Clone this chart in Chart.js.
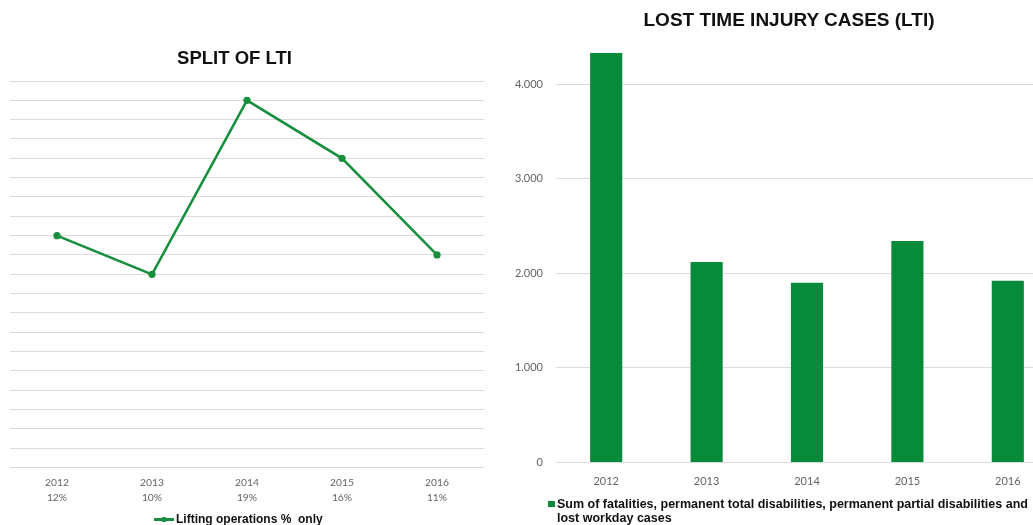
<!DOCTYPE html>
<html>
<head>
<meta charset="utf-8">
<script src="https://cdn.jsdelivr.net/npm/chart.js@4.4.0/dist/chart.umd.min.js"></script>
<style>
  html, body { margin: 0; padding: 0; background: #fff; }
  body { width: 1033px; height: 525px; overflow: hidden; position: relative; }
  .box { position: absolute; top: 0; height: 525px; }
  .title { position: absolute; font-family: "Liberation Sans", Arial, sans-serif; font-weight: bold; color: #111; white-space: nowrap; transform: translate(-50%, -50%); }
  .legend { position: absolute; font-family: "Liberation Sans", Arial, sans-serif; font-weight: bold; color: #111; white-space: nowrap; }
</style>
</head>
<body>
<div class="box" id="leftBox" style="left:0; width:500px;"><canvas id="left"></canvas></div>
<div class="box" id="rightBox" style="left:490px; width:580px;"><canvas id="right"></canvas></div>

<div class="title" style="left:234.5px; top:58px; font-size:18.5px;">SPLIT OF LTI</div>
<div class="title" style="left:789px; top:20px; font-size:19px;">LOST TIME INJURY CASES (LTI)</div>

<div class="legend" style="left:154px; top:512px; font-size:12px; line-height:14px;">
  <span style="position:absolute; left:0; top:6px; width:20px; height:2.5px; background:#188f3f;"></span>
  <span style="position:absolute; left:7px; top:4.5px; width:5.5px; height:5.5px; border-radius:50%; background:#188f3f;"></span>
  <span style="padding-left:22px;">Lifting operations %&nbsp; only</span>
</div>

<div class="legend" style="left:548px; top:497px; font-size:12.5px; line-height:14px;">
  <span style="position:absolute; left:0; top:3.5px; width:6.5px; height:6.5px; background:#078a3a;"></span>
  <div style="padding-left:9px;">Sum of fatalities, permanent total disabilities, permanent partial disabilities and<br>lost workday cases</div>
</div>

<script>
// ---- data ----
const years = ['2012', '2013', '2014', '2015', '2016'];
const liftingPct = [12, 10, 19, 16, 11];
const pctLabels = ['12%', '10%', '19%', '16%', '11%'];
const ltiCases = [4328, 2120, 1900, 2342, 1922];
const ltiTicks = [0, 1000, 2000, 3000, 4000];

const tickFamily = 'Lato, "Open Sans", sans-serif';
const tickColor = '#646464';
const gridColor = '#dcdcdc';

function fmtThousands(v) {
  return String(v).replace(/\B(?=(\d{3})+(?!\d))/g, '.');
}

// ---- left: line chart ----
new Chart(document.getElementById('left'), {
  type: 'line',
  data: {
    labels: years.map((y, i) => [y, pctLabels[i]]),
    datasets: [{
      label: 'Lifting operations %  only',
      data: liftingPct,
      borderColor: '#188f3f',
      backgroundColor: '#188f3f',
      borderWidth: 2.5,
      pointRadius: 2.4,
      pointHoverRadius: 2.4,
      tension: 0,
      fill: false
    }]
  },
  options: {
    responsive: true,
    maintainAspectRatio: false,
    animation: false,
    layout: { padding: { top: 81, left: 9.5, right: 15.5, bottom: 19.4 } },
    plugins: { legend: { display: false }, title: { display: false }, tooltip: { enabled: false } },
    scales: {
      x: {
        offset: true,
        afterFit: (scale) => { scale.height = 38; },
        grid: { display: false, drawTicks: false },
        border: { display: false },
        ticks: { font: { family: tickFamily, size: 10.3, lineHeight: 1.45 }, color: tickColor, padding: 8, maxRotation: 0 }
      },
      y: {
        min: 0, max: 20,
        ticks: { stepSize: 1, display: false },
        grid: { color: gridColor, lineWidth: 1, drawTicks: false },
        border: { display: false }
      }
    }
  }
});

// ---- right: bar chart ----
new Chart(document.getElementById('right'), {
  type: 'bar',
  data: {
    labels: years,
    datasets: [{
      label: 'Sum of fatalities, permanent total disabilities, permanent partial disabilities and lost workday cases',
      data: ltiCases,
      backgroundColor: '#078a3a',
      borderWidth: 0,
      barPercentage: 0.32,
      categoryPercentage: 1
    }]
  },
  options: {
    responsive: true,
    maintainAspectRatio: false,
    animation: false,
    layout: { padding: { top: 36.8, left: 0, right: 12, bottom: 37.9 } },
    plugins: { legend: { display: false }, title: { display: false }, tooltip: { enabled: false } },
    scales: {
      x: {
        afterFit: (scale) => { scale.height = 24.6; },
        grid: { display: false, drawTicks: false },
        border: { display: false },
        ticks: { font: { family: tickFamily, size: 11, lineHeight: 1.2 }, color: tickColor, padding: 12, maxRotation: 0 }
      },
      y: {
        min: 0, max: 4500,
        afterBuildTicks: (scale) => { scale.ticks = ltiTicks.map(v => ({ value: v })); },
        afterFit: (scale) => { scale.width = 66; },
        ticks: { font: { family: tickFamily, size: 11 }, color: tickColor, padding: 13, callback: (v) => fmtThousands(v) },
        grid: { color: gridColor, lineWidth: 1, drawTicks: false },
        border: { display: false }
      }
    }
  }
});
</script>
</body>
</html>
